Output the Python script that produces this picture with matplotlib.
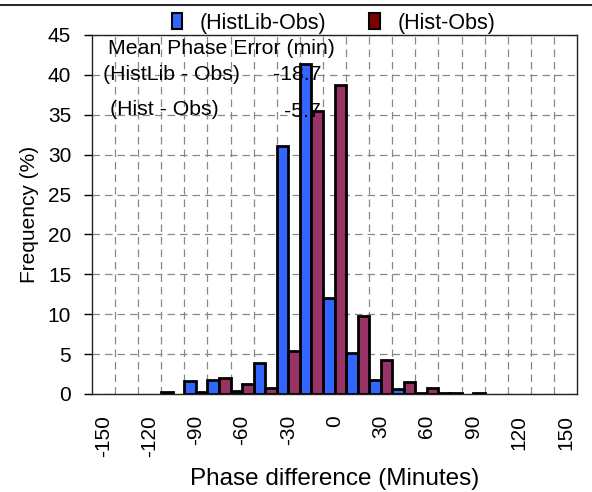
import numpy as np
import matplotlib
matplotlib.use("Agg")
import matplotlib.pyplot as plt
from matplotlib.patches import Patch
from matplotlib.lines import Line2D

plt.rcParams['font.family'] = ['Liberation Sans', 'DejaVu Sans']

# phase difference bins (minutes)
bins = list(range(-150, 151, 15))
tick_labels = [str(b) for b in bins]

# frequency (%) per bin
histlib_obs = [0, 0, 0, 0.2, 1.6, 1.8, 0.4, 3.9, 31.1, 41.3, 12.0,
               5.2, 1.75, 0.6, 0.1, 0.1, 0, 0, 0, 0, 0]
hist_obs = [0, 0, 0, 0, 0.3, 2.0, 1.2, 0.8, 5.4, 35.5, 38.7,
            9.75, 4.3, 1.5, 0.7, 0.1, 0.15, 0, 0, 0, 0]

series_names = ['(HistLib-Obs)', '(Hist-Obs)']
mean_labels = ['(HistLib - Obs)', '(Hist - Obs)']
mean_errors = ['-18.7', '-5.7']

blue = '#3366FF'
maroon = '#993366'
legend_maroon = '#800000'

fig = plt.figure(figsize=(5.92, 4.92), dpi=100)
ax = fig.add_axes([0.1554, 0.1992, 0.8193, 0.7297])

x = np.arange(len(bins))
h1 = np.array(histlib_obs)
h2 = np.array(hist_obs)
m1 = h1 > 0
m2 = h2 > 0
ax.bar(x[m1] - 0.25, h1[m1], width=0.5, color=blue, edgecolor='black',
       linewidth=2, zorder=3)
ax.bar(x[m2] + 0.25, h2[m2], width=0.5, color=maroon, edgecolor='black',
       linewidth=2, zorder=3)

ax.set_xlim(-0.5, len(bins) - 0.5)
ax.set_ylim(0, 45)
ax.set_yticks(np.arange(0, 46, 5))
ax.set_xticks(x[::2])
ax.set_xticklabels(tick_labels[::2], rotation=90, fontsize=15)
ax.set_xticks(x[:-1] + 0.5, minor=True)
ax.tick_params(axis='x', which='both', length=0, pad=15)
ax.tick_params(axis='y', direction='out', length=6, width=1, labelsize=15, pad=9)

ax.grid(axis='y', which='major', color='#888888', linestyle=(0, (6, 4)), linewidth=0.9, zorder=1)
ax.grid(axis='x', which='minor', color='#888888', linestyle=(0, (6, 4)), linewidth=0.9, zorder=1)
ax.grid(axis='x', which='major', visible=False)
ax.set_axisbelow(True)

for s in ax.spines.values():
    s.set_color('#222222')
    s.set_linewidth(1)

ax.set_ylabel('Frequency (%)', fontsize=15, labelpad=6)
ax.set_xlabel('Phase difference (Minutes)', fontsize=17.5, labelpad=8)

# mean phase error annotations
ax.text(0.2, 43.3, 'Mean Phase Error (min)', fontsize=15.3, va='center', ha='left', zorder=5)
ax.text(-0.03, 40.0, mean_labels[0], fontsize=15.3, va='center', ha='left', zorder=5)
ax.text(0.3, 35.6, mean_labels[1], fontsize=15.3, va='center', ha='left', zorder=5)
ax.text(9.43, 40.0, mean_errors[0], fontsize=15.3, va='center', ha='right', zorder=5)
ax.text(9.43, 35.4, mean_errors[1], fontsize=15.3, va='center', ha='right', zorder=5)

handles = [Patch(facecolor=blue, edgecolor='black', linewidth=1.5),
           Patch(facecolor=legend_maroon, edgecolor='black', linewidth=1.5)]
fig.legend(handles, series_names, loc='center', bbox_to_anchor=(0.563, 0.953),
           ncol=2, frameon=False, fontsize=15.5, handlelength=0.5, handleheight=0.72,
           handletextpad=0.8, columnspacing=2.0, borderpad=0.1)

fig.add_artist(Line2D([0, 1], [0.99, 0.99], color='black', linewidth=1.2))

fig.savefig('out.png', dpi=100)
